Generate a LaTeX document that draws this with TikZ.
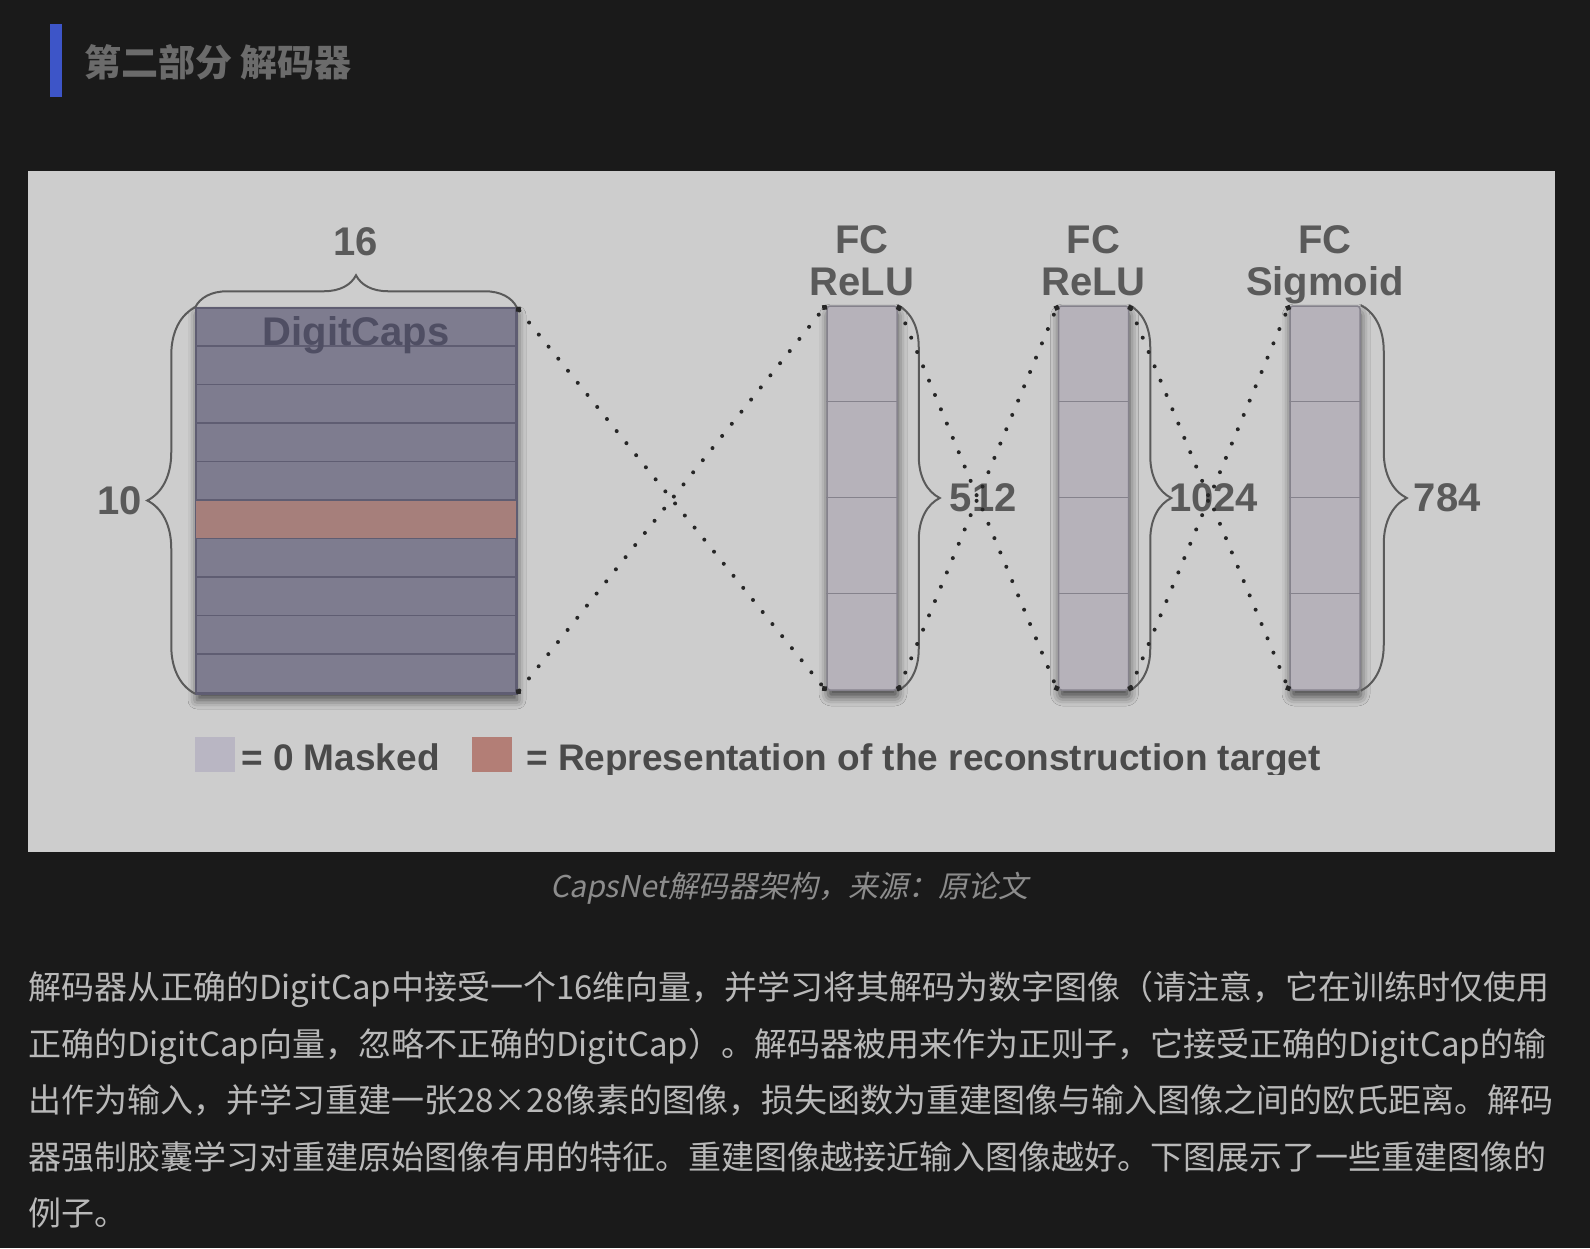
\documentclass[tikz,border=0pt]{standalone}
\usepackage{fontspec}
\setmainfont{Liberation Sans}
\newfontfamily\cjk{Noto Sans CJK SC}
\newfontfamily\cjkslant[FakeSlant=0.2]{Noto Sans CJK SC}
\usetikzlibrary{arrows.meta,positioning,decorations.pathreplacing,shadows.blur}

\XeTeXlinebreaklocale "zh"
\XeTeXlinebreakskip=0pt plus 3pt

\definecolor{pagebg}{HTML}{1A1A1A}
\definecolor{panelbg}{HTML}{CDCDCD}
\definecolor{barblue}{HTML}{3D55C8}
\definecolor{titlegray}{HTML}{6B6B6B}
\definecolor{capgray}{HTML}{8C8C8C}
\definecolor{bodygray}{HTML}{B9B9B9}
\definecolor{labelgray}{HTML}{5A5A5A}
\definecolor{legendgray}{HTML}{4A4A4A}
\definecolor{capsfill}{HTML}{7E7C8F}
\definecolor{capsline}{HTML}{5F5D72}
\definecolor{capstext}{HTML}{4F4E63}
\definecolor{capsred}{HTML}{A67F7B}
\definecolor{fcfill}{HTML}{B6B2BA}
\definecolor{fcline}{HTML}{85828C}
\definecolor{dotgray}{HTML}{262626}
\definecolor{maskfill}{HTML}{B9B6C3}
\definecolor{targetfill}{HTML}{B37E76}

\begin{document}
\begin{tikzpicture}[x=1pt, y=-1pt,
  lbl/.style={font=\fontsize{40}{42}\selectfont\bfseries, text=labelgray, inner sep=0pt},
  capsblock/.style={draw=capsline, fill=capsfill, line width=1.5pt, minimum width=320pt, minimum height=385pt, inner sep=0pt,
    blur shadow={shadow xshift=1pt, shadow yshift=-7pt, shadow blur radius=9pt, shadow opacity=65}},
  layer/.style={draw=fcline, fill=fcfill, line width=1.5pt, rounded corners=3pt, minimum width=70pt, minimum height=384pt, inner sep=0pt,
    blur shadow={shadow xshift=1pt, shadow yshift=-7pt, shadow blur radius=9pt, shadow opacity=65}},
  sizebrace/.style={decorate, decoration={brace, amplitude=42pt}, draw=labelgray, line width=2pt},
  link/.style={draw=dotgray, line width=4pt, line cap=round, dash pattern=on 0pt off 15.5pt, {Circle[length=5.5pt]}-{Circle[length=5.5pt]}},
  legendbox/.style={minimum width=40pt, minimum height=35pt, inner sep=0pt},
  legendtext/.style={font=\fontsize{37}{37}\selectfont\bfseries, text=legendgray, inner sep=0pt, anchor=base west},
  bodyline/.style={anchor=base west, inner sep=0pt, text=bodygray, font=\cjk\fontsize{33}{33}\selectfont}]

% page and figure panel
\fill[pagebg] (0,0) rectangle (1590,1248);
\useasboundingbox (0,0) rectangle (1590,1248);
\fill[panelbg] (28,171) rectangle (1555,852);

% heading
\fill[barblue] (50,24) rectangle (62,97);
\node[anchor=base west, inner sep=0pt, text=titlegray, font=\cjk\bfseries\fontsize{37}{37}\selectfont] (title) at (84,76) {第二部分 解码器};

% DigitCaps
\node[capsblock] (digit) at (356,500.5) {};
\fill[capsred] ([yshift=-192.5pt]digit.north west) rectangle ([yshift=-231pt]digit.north east);
\foreach \k in {1,...,9}
  \draw[capsline, line width=1.5pt] ([yshift={-38.5pt*\k}]digit.north west) -- ([yshift={-38.5pt*\k}]digit.north east);
\draw[capsline, line width=1.5pt] (digit.north west) rectangle (digit.south east);
\node[lbl, text=capstext, anchor=base] (digitname) at ([yshift=-38pt]digit.north) {DigitCaps};
\draw[sizebrace, decoration={amplitude=32pt}] (digit.north west) -- (digit.north east)
  node[lbl, midway, above=50pt] (dimsixteen) {16};
\draw[sizebrace, decoration={amplitude=48pt}] (digit.south west) -- (digit.north west)
  node[lbl, midway, left=52pt] (dimten) {10};

% fully connected layers
\node[layer] (fcA) at (862,498) {};
\node[layer, right=160pt of fcA] (fcB) {};
\node[layer, right=160pt of fcB] (fcC) {};
\foreach \n in {fcA,fcB,fcC}
  \foreach \k in {1,2,3}
    \draw[fcline, line width=1.5pt] ([yshift={-96pt*\k}]\n.north west) -- ([yshift={-96pt*\k}]\n.north east);

\node[lbl, above=10pt of fcA.north, anchor=base] (actA) {ReLU};
\node[lbl, above=42pt of actA.base, anchor=base] (typeA) {FC};
\node[lbl, above=10pt of fcB.north, anchor=base] (actB) {ReLU};
\node[lbl, above=42pt of actB.base, anchor=base] (typeB) {FC};
\node[lbl, above=10pt of fcC.north, anchor=base] (actC) {Sigmoid};
\node[lbl, above=42pt of actC.base, anchor=base] (typeC) {FC};

\draw[sizebrace] (fcA.north east) -- (fcA.south east) node[lbl, midway, right=51pt] (sizeA) {512};
\draw[sizebrace] (fcB.north east) -- (fcB.south east) node[lbl, midway, right=39pt] (sizeB) {1024};
\draw[sizebrace, decoration={amplitude=46pt}] (fcC.north east) -- (fcC.south east) node[lbl, midway, right=52pt] (sizeC) {784};

% dotted connections
\draw[link] (digit.north east) -- (fcA.south west);
\draw[link] (digit.south east) -- (fcA.north west);
\draw[link] (fcA.north east) -- (fcB.south west);
\draw[link] (fcA.south east) -- (fcB.north west);
\draw[link] (fcB.north east) -- (fcC.south west);
\draw[link] (fcB.south east) -- (fcC.north west);

% legend (cut off at the bottom as in the source image)
\begin{scope}
\clip (0,0) rectangle (1590,774);
\node[legendbox, fill=maskfill] (maskkey) at (215,754) {};
\node[legendtext] (masktext) at (241,770) {= 0 Masked};
\node[legendbox, fill=targetfill] (targetkey) at (491.5,754.5) {};
\node[legendtext] (targettext) at (526,770) {= Representation of the reconstruction target};
\end{scope}

% caption and body text
\node[anchor=base, inner sep=0pt, text=capgray, font=\cjkslant\fontsize{30}{30}\selectfont] (caption) at (789,897) {CapsNet解码器架构，来源：原论文};

\node[bodyline] (bodyA) at (28,999.5) {\makebox[1526pt][s]{解码器从正确的DigitCap中接受一个16维向量，并学习将其解码为数字图像（请注意，它在训练时仅使用}};
\node[bodyline, below=56.5pt of bodyA.base west, anchor=base west] (bodyB) {\makebox[1526pt][s]{正确的DigitCap向量，忽略不正确的DigitCap）。解码器被用来作为正则子，它接受正确的DigitCap的输}};
\node[bodyline, below=56.5pt of bodyB.base west, anchor=base west] (bodyC) {\makebox[1526pt][s]{出作为输入，并学习重建一张28×28像素的图像，损失函数为重建图像与输入图像之间的欧氏距离。解码}};
\node[bodyline, below=56.5pt of bodyC.base west, anchor=base west] (bodyD) {\makebox[1526pt][s]{器强制胶囊学习对重建原始图像有用的特征。重建图像越接近输入图像越好。下图展示了一些重建图像的}};
\node[bodyline, below=56.5pt of bodyD.base west, anchor=base west] (bodyE) {例子。};
\end{tikzpicture}
\end{document}
